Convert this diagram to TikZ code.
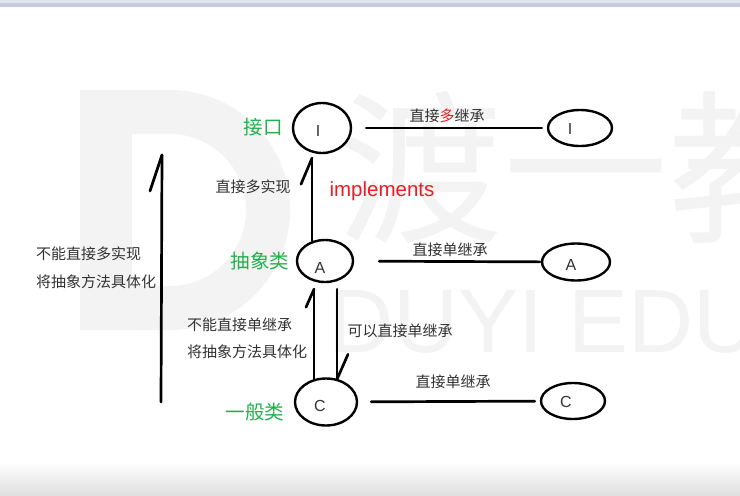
\documentclass[tikz,border=0pt]{standalone}
\usepackage{fontspec}
\setmainfont{Liberation Sans}
\newfontfamily\cjk{Noto Sans CJK SC}
\usetikzlibrary{shapes.geometric,calc}
\definecolor{txt}{HTML}{333333}
\definecolor{grn}{HTML}{22B14C}
\definecolor{rd}{HTML}{ED1C24}
\definecolor{band}{RGB}{200,203,224}
\definecolor{wm}{HTML}{F3F3F3}
\tikzset{
  circ/.style={ellipse, draw=black, line width=2.4pt, inner sep=0pt},
  letter/.style={font=\fontsize{16}{16}\selectfont, text=txt, inner sep=0pt},
  conn/.style={draw=black, line width=2.7pt, line cap=round},
  lbl/.style={font=\cjk\fontsize{15}{15}\selectfont, text=txt, inner sep=0pt},
  glbl/.style={font=\cjk\fontsize{19.5}{19.5}\selectfont, text=grn, inner sep=0pt},
}
\begin{document}
\begin{tikzpicture}[x=1pt,y=-1pt]
\useasboundingbox (0,0) rectangle (740,496);
\fill[white] (0,0) rectangle (740,496);
% watermark
\begin{scope}
\clip (0,0) rectangle (740,496);
\fill[wm] (80,90) rectangle (132,330);
\draw[wm, line width=44pt] (132,112) -- (170,112) arc[start angle=-90, end angle=90, radius=98] -- (132,308);
\node[font=\cjk\fontsize{165}{165}\selectfont, text=wm, anchor=west, inner sep=0pt] (wmcn) at (338,168) {渡一教};
\node[font=\fontsize{90}{90}\selectfont, text=wm, anchor=west, inner sep=0pt] (wmen) at (328,322) {DUYI EDU};
\end{scope}
% window bands
\fill[band] (0,3) rectangle (740,7);
\fill[band!50] (0,0) rectangle (740,3);
\shade[top color=white, bottom color=black!13] (0,462) rectangle (740,496);

% nodes
\node[circ, minimum width=58pt, minimum height=50pt] (I1) at (322,128) {};
\node[circ, minimum width=56pt, minimum height=42pt] (A1) at (325,261) {};
\node[circ, minimum width=62pt, minimum height=47pt] (C1) at (326,402) {};
\node[circ, minimum width=64pt, minimum height=36pt] (I2) at (580,128) {};
\node[circ, minimum width=68pt, minimum height=37pt] (A2) at (576,262) {};
\node[circ, minimum width=64pt, minimum height=36pt] (C2) at (573,401) {};
\node[letter] (lI1) at ($(I1)+(-4,3)$) {I};
\node[letter] (lA1) at ($(A1)+(-5,7)$) {A};
\node[letter] (lC1) at ($(C1)+(-6,4)$) {C};
\node[letter] (lI2) at ($(I2)+(-10,1)$) {I};
\node[letter] (lA2) at ($(A2)+(-5,3)$) {A};
\node[letter] (lC2) at ($(C2)+(-7,1)$) {C};

% horizontal connectors
\draw[conn, shorten <=14pt, shorten >=5pt] (I1) -- (I2);
\draw[conn, shorten <=25pt, shorten >=1pt] (A1) -- (A2);
\draw[conn, shorten <=13pt, shorten >=5pt] (C1) -- (C2);

% A -> I (implements)
\coordinate (aiT) at ($(I1.south)+(-10,4)$);
\draw[conn] ($(A1.north)+(-13,2)$) -- (aiT);
\draw[conn] (aiT) -- ++(-11,26);

% C -> A (left, up)
\coordinate (caT) at ($(A1.south)+(-11,6)$);
\draw[conn] ($(C1.north)+(-12,2)$) -- (caT);
\draw[conn] (caT) -- ++(-8,18);

% A -> C (right, down)
\coordinate (acT) at ($(C1.north)+(11,2)$);
\draw[conn] ($(A1.south)+(12,6)$) -- (acT);
\draw[conn] (acT) -- ++(11,-25);

% long left arrow
\coordinate (Lb) at (161,402);
\coordinate (Lt) at (162,155);
\draw[conn] (Lb) -- (Lt);
\draw[conn] (Lt) -- ++(-12,36);

% labels
\node[lbl] (t1) at (447,116) {直接\textcolor{rd}{多}继承};
\node[lbl] (t2) at (450,250) {直接单继承};
\node[lbl] (t3) at (453,382) {直接单继承};
\node[lbl] (t4) at (253,187) {直接多实现};
\node[font=\fontsize{20.5}{20.5}\selectfont, text=rd, inner sep=0pt] (t5) at (382,191) {implements};
\node[lbl] (t6) at (400,331) {可以直接单继承};
\node[lbl, anchor=west] (t7) at (187,325) {不能直接单继承};
\node[lbl, anchor=west] (t8) at (187,352) {将抽象方法具体化};
\node[lbl, anchor=west] (t9) at (36,254) {不能直接多实现};
\node[lbl, anchor=west] (t10) at (36,282) {将抽象方法具体化};
\node[glbl] (g1) at (263,127) {接口};
\node[glbl] (g2) at (260,261) {抽象类};
\node[glbl] (g3) at (255,412) {一般类};
\end{tikzpicture}
\end{document}
